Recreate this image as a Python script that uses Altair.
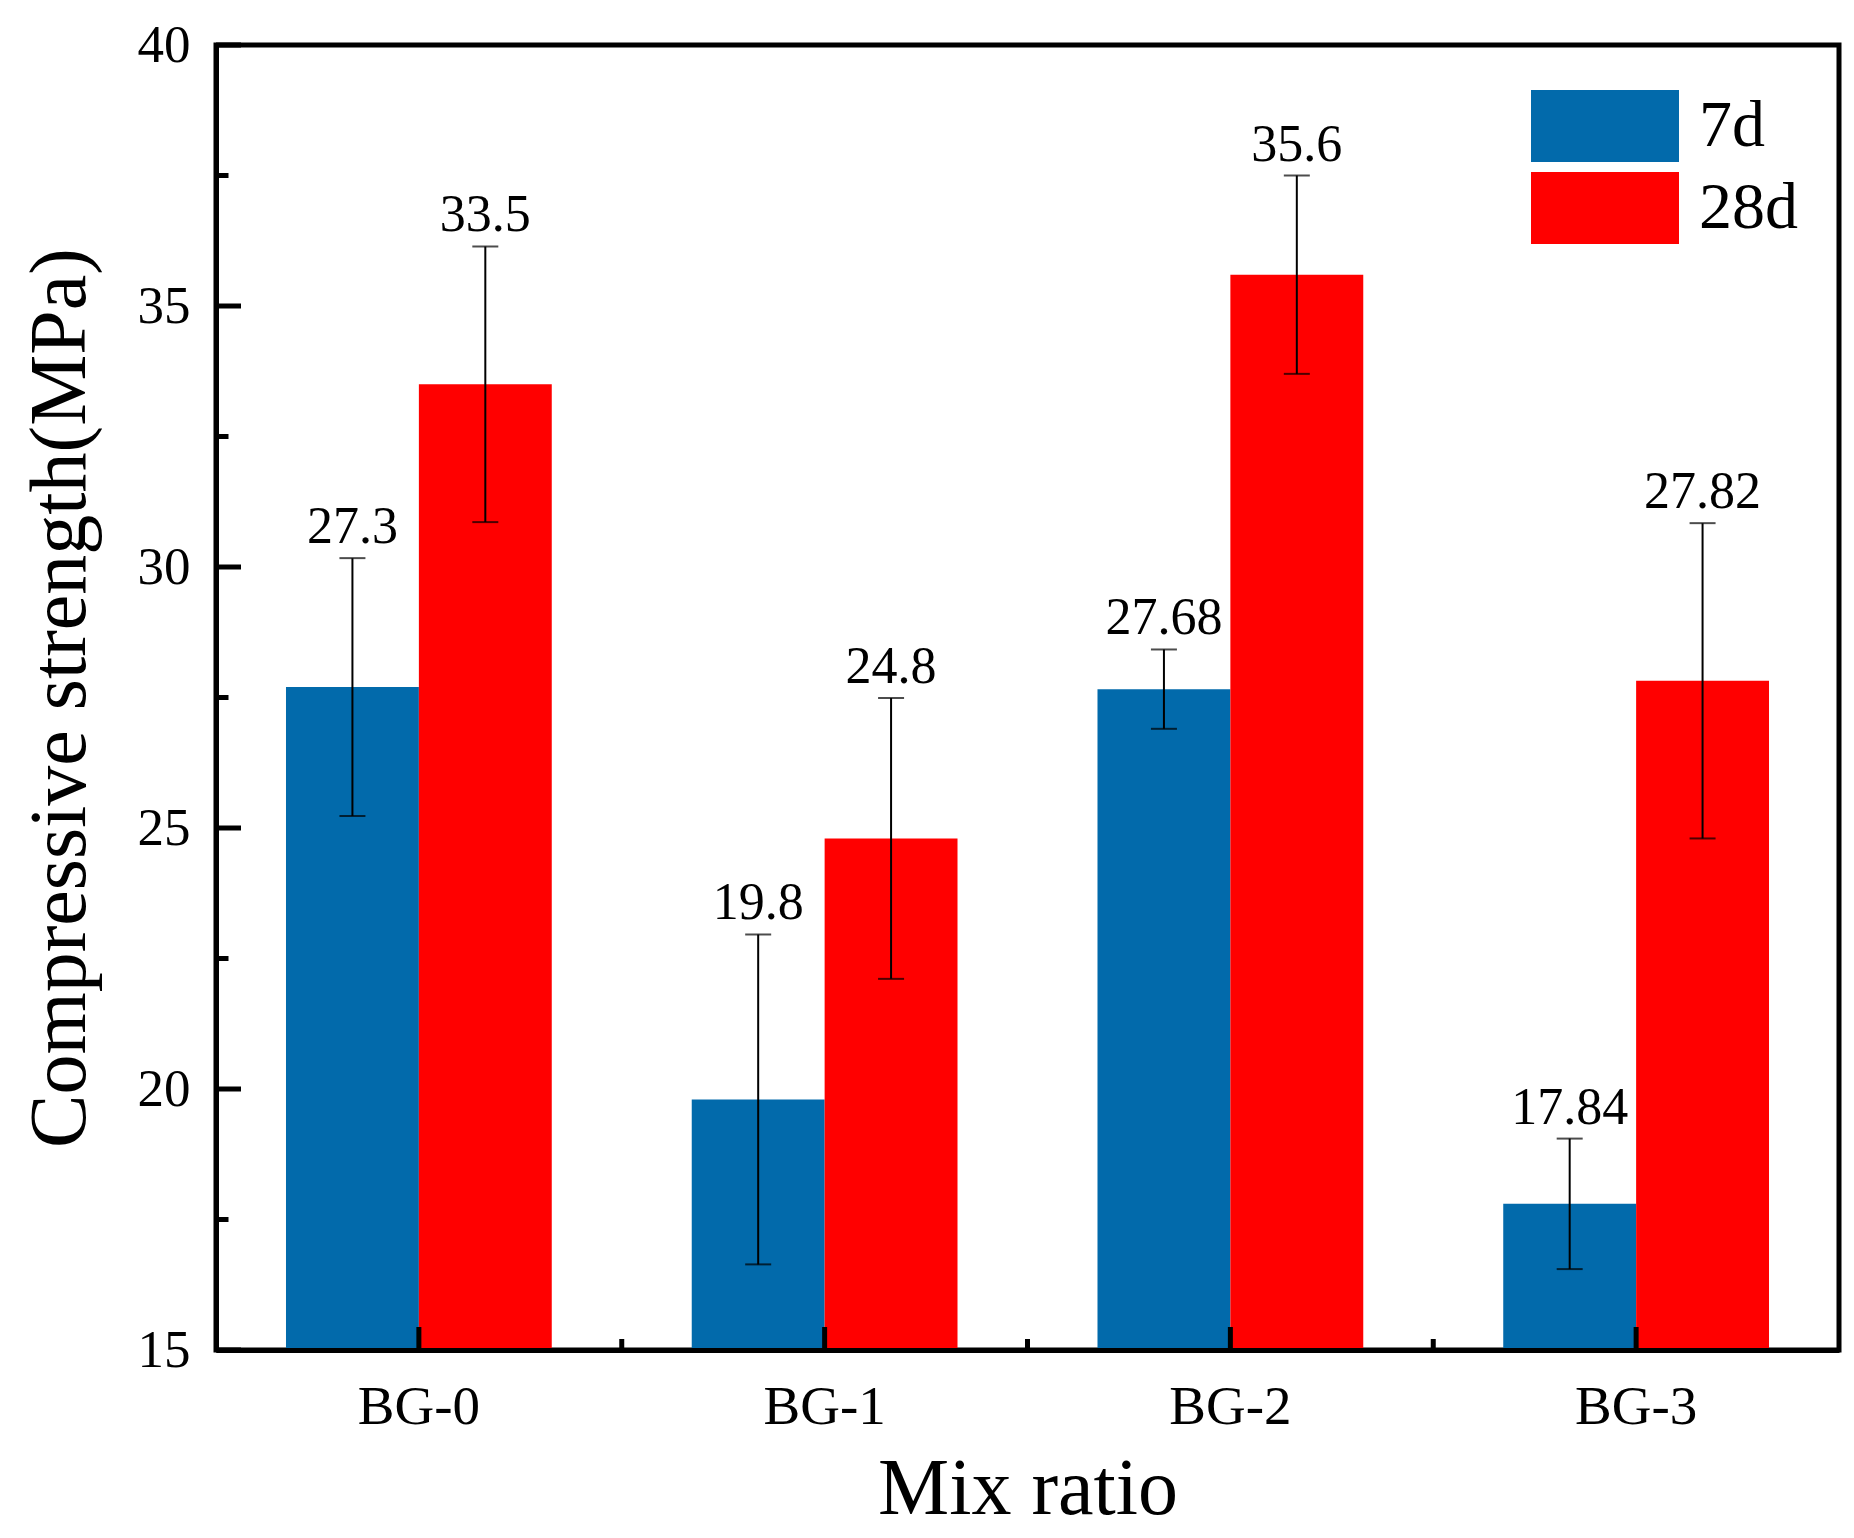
import altair as alt
import pandas as pd

categories = ["BG-0", "BG-1", "BG-2", "BG-3"]
series = ["7d", "28d"]
values_7d = [27.7, 19.8, 27.66, 17.8]
values_28d = [33.5, 24.8, 35.6, 27.82]
err_7d = [2.47, 3.16, 0.76, 1.25]
err_28d = [2.64, 2.69, 1.9, 3.02]
labels_7d = ["27.3", "19.8", "27.68", "17.84"]
labels_28d = ["33.5", "24.8", "35.6", "27.82"]
y_major = [15, 20, 25, 30, 35, 40]
y_minor = [17.5, 22.5, 27.5, 32.5, 37.5]

rows = []
for i, c in enumerate(categories):
    for s, v, e, l in (("7d", values_7d[i], err_7d[i], labels_7d[i]),
                       ("28d", values_28d[i], err_28d[i], labels_28d[i])):
        rows.append({"cat": c, "series": s, "value": v, "lo": v - e, "hi": v + e, "label": l})
df = pd.DataFrame(rows)

FONT = "Liberation Serif"
W, H = 1623, 1305
PAD_INNER = 0.345

xscale = alt.Scale(domain=categories, paddingInner=PAD_INNER, paddingOuter=PAD_INNER / 2)
yscale = alt.Scale(domain=[15, 40], nice=False, zero=False)
color = alt.Color(
    "series:N",
    scale=alt.Scale(domain=series, range=["#026aab", "#ff0000"]),
    legend=alt.Legend(
        title=None, orient="none", legendX=1352, legendY=44,
        symbolType="M-2,-0.97H2V0.97H-2Z", symbolSize=5476, symbolStrokeWidth=0,
        symbolOpacity=1, labelFont=FONT, labelFontSize=66, labelColor="black",
        labelOffset=57, rowPadding=9, padding=0,
    ),
)
xoff = alt.XOffset("series:N", scale=alt.Scale(domain=series, paddingInner=0, paddingOuter=0))
X = alt.X("cat:N", scale=xscale, sort=categories)

bars = alt.Chart(df).mark_bar().encode(
    x=alt.X("cat:N", scale=xscale, sort=categories,
            axis=alt.Axis(title="Mix ratio", labelAngle=0, ticks=False, tickSize=0,
                          labelFont=FONT, labelFontSize=55, labelColor="black",
                          labelPadding=73, labelBaseline="alphabetic",
                          domainColor="black", domainWidth=5,
                          titleFont=FONT, titleFontSize=80, titleFontWeight="normal",
                          titleColor="black", titleY=163, titleBaseline="alphabetic",
                          zindex=1)),
    xOffset=xoff,
    y=alt.Y("value:Q", scale=yscale,
            axis=alt.Axis(title="Compressive strength(MPa)", values=y_major, ticks=False,
                          tickSize=0, grid=False, labelFont=FONT, labelFontSize=53,
                          labelColor="black", labelPadding=26,
                          domainColor="black", domainWidth=5,
                          titleFont=FONT, titleFontSize=80, titleFontWeight="normal",
                          titleColor="black", titleX=-132, titleY=H / 2, titleAngle=270,
                          titleBaseline="alphabetic", titleAlign="center", zindex=1)),
    y2=alt.datum(15),
    color=color,
)

err_line = alt.Chart(df).mark_rule(color="black", strokeWidth=2).encode(
    x=X, xOffset=xoff,
    y=alt.Y("lo:Q", scale=yscale, title="Compressive strength(MPa)"),
    y2="hi:Q",
)
cap_hi = alt.Chart(df).mark_tick(color="black", thickness=2, size=26).encode(
    x=X, xOffset=xoff,
    y=alt.Y("hi:Q", scale=yscale, title="Compressive strength(MPa)"),
)
cap_lo = alt.Chart(df).mark_tick(color="black", thickness=2, size=26).encode(
    x=X, xOffset=xoff,
    y=alt.Y("lo:Q", scale=yscale, title="Compressive strength(MPa)"),
)
text = alt.Chart(df).mark_text(font=FONT, fontSize=52, color="black", dy=-15,
                               baseline="alphabetic", align="center").encode(
    x=X, xOffset=xoff,
    y=alt.Y("hi:Q", scale=yscale, title="Compressive strength(MPa)"),
    text="label:N",
)

ymaj = alt.Chart(pd.DataFrame({"v": y_major})).mark_rule(color="black", strokeWidth=5).encode(
    y=alt.Y("v:Q", scale=yscale, title="Compressive strength(MPa)"),
    x=alt.value(0), x2=alt.value(25))
ymin = alt.Chart(pd.DataFrame({"v": y_minor})).mark_rule(color="black", strokeWidth=5).encode(
    y=alt.Y("v:Q", scale=yscale, title="Compressive strength(MPa)"),
    x=alt.value(0), x2=alt.value(12.5))
xmaj = alt.Chart(pd.DataFrame({"cat": categories})).mark_rule(color="black", strokeWidth=5).encode(
    x=X, y=alt.value(H), y2=alt.value(H - 23))
gap_half = PAD_INNER * (W / len(categories)) / 2
xmin = alt.Chart(pd.DataFrame({"cat": categories[:-1]})).mark_rule(
    color="black", strokeWidth=5, xOffset=gap_half).encode(
    x=alt.X("cat:N", scale=xscale, sort=categories, bandPosition=1),
    y=alt.value(H), y2=alt.value(H - 11))

chart = alt.layer(bars, err_line, cap_hi, cap_lo, text, ymaj, ymin, xmaj, xmin).properties(
    width=W, height=H,
    background="white",
    autosize=alt.AutoSizeParams(type="none"),
    padding={"left": 208, "top": 37, "right": 5, "bottom": 180},
).configure_view(stroke="black", strokeWidth=5)

chart.save("out.html", embed_options={"renderer": "svg", "actions": False})
